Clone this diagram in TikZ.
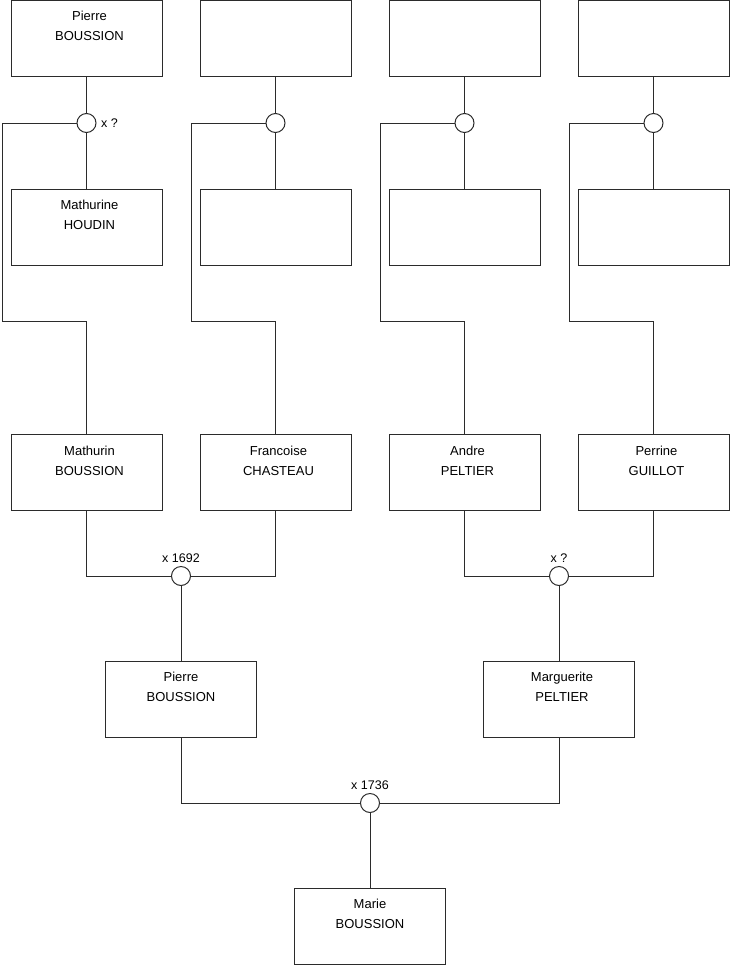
\documentclass[tikz,border=0pt]{standalone}
\usepackage{fontspec}
\setmainfont{Liberation Sans}
\usepackage{xcolor}
\usepackage{tikz}
\usetikzlibrary{positioning}
\definecolor{linegray}{HTML}{2B2B2B}
\tikzset{
  person/.style={
    draw=linegray, line width=1pt,
    minimum width=151pt, minimum height=76pt,
    inner xsep=4pt, inner ysep=11.5pt,
    font=\fontsize{13}{20}\selectfont,
  },
  union/.style={circle, draw=linegray, fill=white, line width=1pt,
    minimum size=19pt, inner sep=0pt},
  link/.style={draw=linegray, line width=1pt},
  lbl/.style={font=\fontsize{12.5}{15}\selectfont, inner sep=1pt},
}
% first name, surname; optional push to the right
\newcommand\names[3][6pt]{\parbox[t][53pt][t]{140pt}{\centering
  \hspace*{#1}#2\\\hspace*{#1}#3}}

\begin{document}
\begin{tikzpicture}[x=1pt, y=-1pt]
  \useasboundingbox (0,0) rectangle (740,975);

  % great-grandparents
  \node[person] (pierreA) at (86.5,38) {\names{Pierre}{BOUSSION}};
  \node[person] (gfB) at (275.5,38) {};
  \node[person] (gfC) at (464.5,38) {};
  \node[person] (gfD) at (653.5,38) {};

  \node[union] (uA) at (86.5,123) {};
  \node[union] (uB) at (275.5,123) {};
  \node[union] (uC) at (464.5,123) {};
  \node[union] (uD) at (653.5,123) {};
  \node[lbl, right=3.5pt of uA] (xA) {x ?};

  \node[person] (mathurine) at (86.5,227) {\names{Mathurine}{HOUDIN}};
  \node[person] (gmB) at (275.5,227) {};
  \node[person] (gmC) at (464.5,227) {};
  \node[person] (gmD) at (653.5,227) {};

  % grandparents
  \node[person] (mathurin) at (86.5,472.5) {\names{Mathurin}{BOUSSION}};
  \node[person] (francoise) at (275.5,472.5) {\names{Francoise}{CHASTEAU}};
  \node[person] (andre) at (464.5,472.5) {\names{Andre}{PELTIER}};
  \node[person] (perrine) at (653.5,472.5) {\names{Perrine}{GUILLOT}};

  \node[union] (uE) at (181,576) {};
  \node[union] (uF) at (559,576) {};
  \node[lbl, above=2pt of uE] (xE) {x 1692};
  \node[lbl, above=2pt of uF] (xF) {x ?};

  % parents
  \node[person] (pierre) at (181,699) {\names[0pt]{Pierre}{BOUSSION}};
  \node[person] (marguerite) at (559,699) {\names{Marguerite}{PELTIER}};

  \node[union] (uG) at (370,803) {};
  \node[lbl, above=2pt of uG] (xG) {x 1736};

  \node[person] (marie) at (370,926) {\names[0pt]{Marie}{BOUSSION}};

  % connectors
  \draw[link] (pierreA) -- (uA);
  \draw[link] (gfB) -- (uB);
  \draw[link] (gfC) -- (uC);
  \draw[link] (gfD) -- (uD);
  \draw[link] (uA) -- (mathurine);
  \draw[link] (uB) -- (gmB);
  \draw[link] (uC) -- (gmC);
  \draw[link] (uD) -- (gmD);

  \draw[link] (uA.west) -- (2,123) -- (2,321) -| (mathurin);
  \draw[link] (uB.west) -- (191,123) -- (191,321) -| (francoise);
  \draw[link] (uC.west) -- (380,123) -- (380,321) -| (andre);
  \draw[link] (uD.west) -- (569,123) -- (569,321) -| (perrine);

  \draw[link] (mathurin) |- (uE);
  \draw[link] (francoise) |- (uE);
  \draw[link] (andre) |- (uF);
  \draw[link] (perrine) |- (uF);
  \draw[link] (uE) -- (pierre);
  \draw[link] (uF) -- (marguerite);

  \draw[link] (pierre) |- (uG);
  \draw[link] (marguerite) |- (uG);
  \draw[link] (uG) -- (marie);

\end{tikzpicture}
\end{document}
